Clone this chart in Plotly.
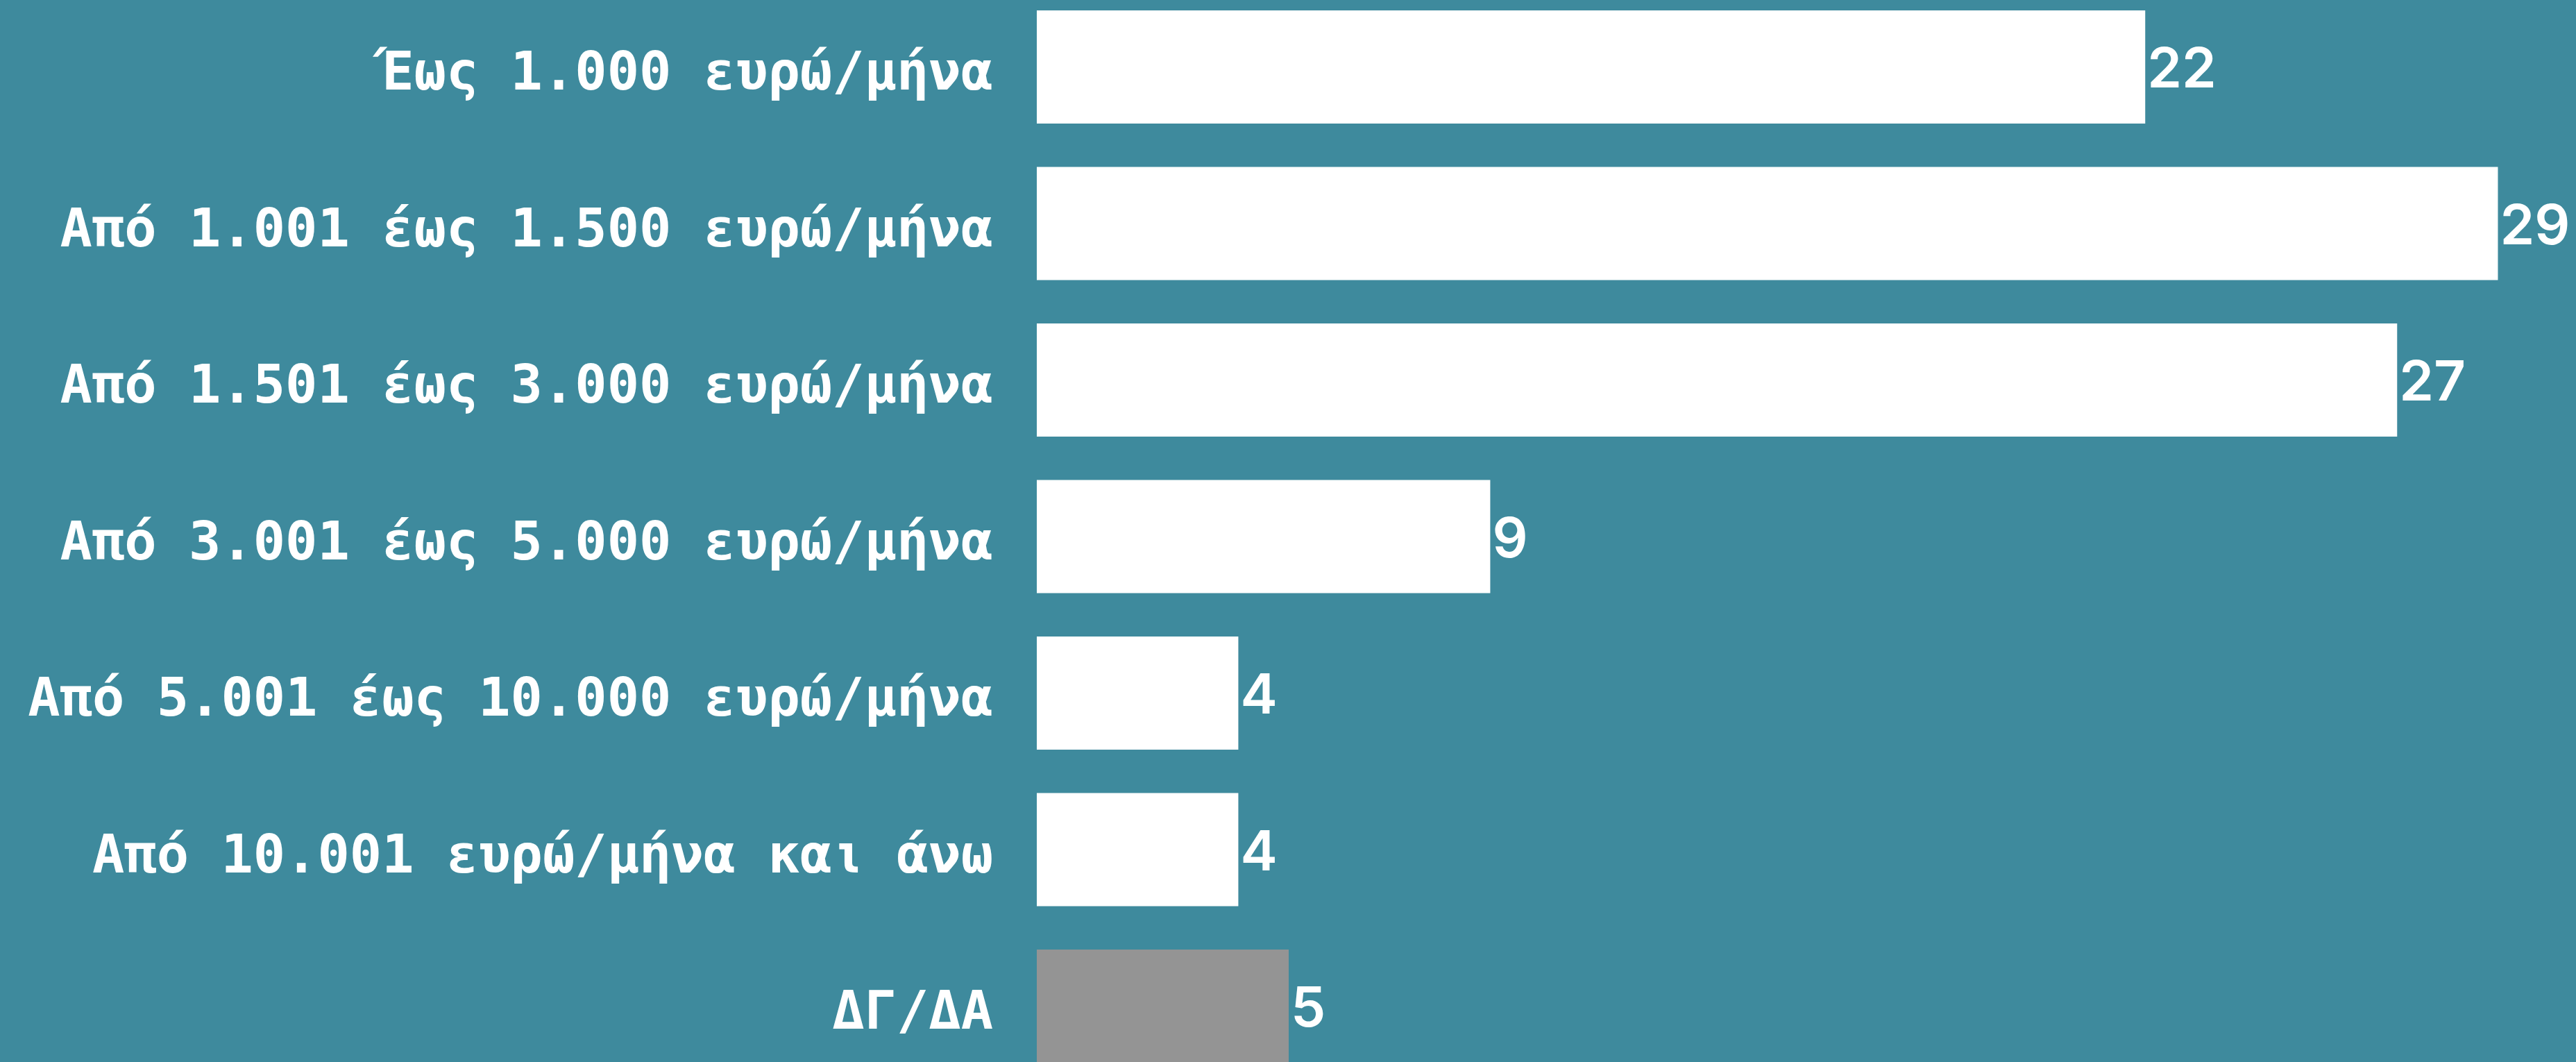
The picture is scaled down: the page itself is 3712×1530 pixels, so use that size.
import plotly.graph_objects as go

categories = [
    "Έως 1.000 ευρώ/μήνα",
    "Από 1.001 έως 1.500 ευρώ/μήνα",
    "Από 1.501 έως 3.000 ευρώ/μήνα",
    "Από 3.001 έως 5.000 ευρώ/μήνα",
    "Από 5.001 έως 10.000 ευρώ/μήνα",
    "Από 10.001 ευρώ/μήνα και άνω",
    "ΔΓ/ΔΑ",
]
values = [22, 29, 27, 9, 4, 4, 5]
bar_colors = ["#FFFFFF"] * 6 + ["#949494"]

BG = "#3E8A9D"

fig = go.Figure(
    go.Bar(
        y=categories,
        x=values,
        orientation="h",
        marker=dict(color=bar_colors, line=dict(width=0)),
        text=[str(v) for v in values],
        textposition="outside",
        textfont=dict(family="Inter", size=80, color="white", weight=600),
        constraintext="none",
        cliponaxis=False,
        hoverinfo="skip",
    )
)

fig.update_layout(
    width=3712,
    height=1530,
    margin=dict(l=1494, r=0, t=0, b=0, autoexpand=False),
    paper_bgcolor=BG,
    plot_bgcolor=BG,
    bargap=0.277,
    showlegend=False,
)
fig.update_xaxes(visible=False, range=[0, 30.55], fixedrange=True)
fig.update_yaxes(
    type="category",
    categoryorder="array",
    categoryarray=categories,
    range=[6.357, -0.428],
    showgrid=False,
    zeroline=False,
    showline=False,
    ticks="",
    ticklabelstandoff=62,
    ticklabelshift=-6,
    automargin=False,
    tickfont=dict(family="DejaVu Sans Mono", size=77, color="white", weight="bold"),
)

fig.write_html(
    "out.html",
    config={"displayModeBar": False},
    post_script="document.body.style.margin='0';document.body.style.overflow='hidden';",
)
